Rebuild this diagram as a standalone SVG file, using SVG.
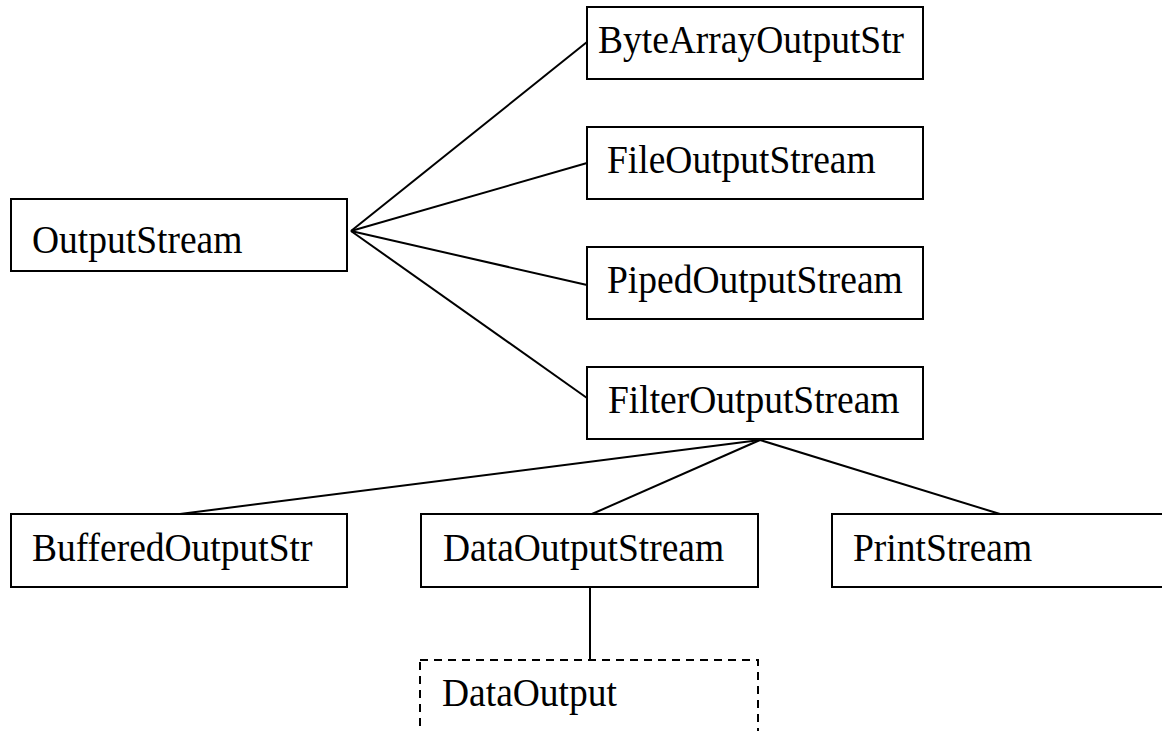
<svg xmlns="http://www.w3.org/2000/svg" width="1162" height="731" viewBox="0 0 1162 731">
<style>
.box{fill:#fff;stroke:#000;stroke-width:2}
.dash{fill:#fff;stroke:#000;stroke-width:2;stroke-dasharray:8 6}
.lbl{font-family:"Liberation Serif","Times New Roman",serif;font-size:37.5px;fill:#000}
.conn line{stroke:#000;stroke-width:2}
</style>
<rect width="1162" height="731" fill="#fff"/>
<g id="connectors" class="conn">
<line x1="351" y1="231" x2="587" y2="42"/>
<line x1="351" y1="231" x2="587" y2="163"/>
<line x1="351" y1="231" x2="587" y2="285"/>
<line x1="351" y1="231" x2="587" y2="398"/>
<line x1="760" y1="440" x2="180" y2="514"/>
<line x1="760" y1="440" x2="592" y2="514"/>
<line x1="760" y1="440" x2="1000" y2="514"/>
<line x1="590" y1="587" x2="590" y2="660"/>
</g>
<g id="OutputStream"><rect class="box" x="11" y="199" width="336" height="72"/><text class="lbl" transform="translate(32,253) scale(1,1.08)">OutputStream</text></g>
<g id="ByteArrayOutputStr"><rect class="box" x="587" y="7" width="336" height="72"/><text class="lbl" transform="translate(598,53) scale(1,1.08)">ByteArrayOutputStr</text></g>
<g id="FileOutputStream"><rect class="box" x="587" y="127" width="336" height="72"/><text class="lbl" transform="translate(607,173) scale(1,1.08)">FileOutputStream</text></g>
<g id="PipedOutputStream"><rect class="box" x="587" y="247" width="336" height="72"/><text class="lbl" transform="translate(607,293) scale(1,1.08)">PipedOutputStream</text></g>
<g id="FilterOutputStream"><rect class="box" x="587" y="367" width="336" height="72"/><text class="lbl" transform="translate(608,413) scale(1,1.08)">FilterOutputStream</text></g>
<g id="BufferedOutputStr"><rect class="box" x="11" y="514" width="336" height="73"/><text class="lbl" transform="translate(32,561) scale(1,1.08)">BufferedOutputStr</text></g>
<g id="DataOutputStream"><rect class="box" x="421" y="514" width="337" height="73"/><text class="lbl" transform="translate(443,561) scale(1,1.08)">DataOutputStream</text></g>
<g id="PrintStream"><rect class="box" x="832" y="514" width="336" height="73"/><text class="lbl" transform="translate(853,561) scale(1,1.08)">PrintStream</text></g>
<g id="DataOutput"><rect class="dash" x="420" y="660" width="338" height="80"/><text class="lbl" transform="translate(442,706) scale(1,1.08)">DataOutput</text></g>
</svg>
